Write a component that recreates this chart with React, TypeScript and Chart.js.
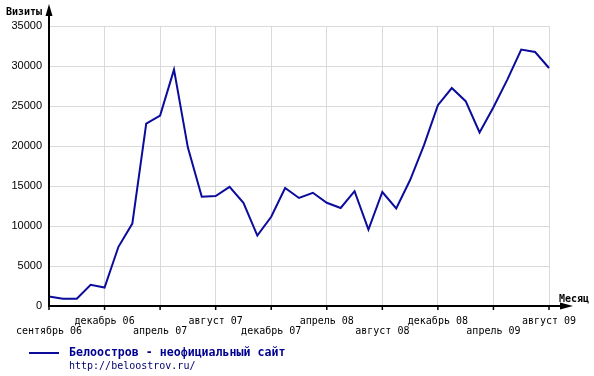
import React, { useEffect, useRef } from "react";
import { Chart, registerables } from "chart.js";

Chart.register(...registerables);

const tickLabels = [
  "сентябрь 06",
  "декабрь 06",
  "апрель 07",
  "август 07",
  "декабрь 07",
  "апрель 08",
  "август 08",
  "декабрь 08",
  "апрель 09",
  "август 09",
];

const visits = [
  1200, 900, 900, 2650, 2300, 7400, 10300, 22800, 23800, 29550,
  19800, 13650, 13750, 14900, 12900, 8800, 11150, 14750, 13500, 14150,
  12900, 12250, 14350, 9550, 14250, 12200, 15750, 20100, 25100, 27250,
  25600, 21700, 24850, 28300, 32050, 31750, 29750,
];

const categories = visits.map((_, i) => (i % 4 === 0 ? tickLabels[i / 4] : ""));

const seriesName = "Белоостров - неофициальный сайт";
const siteUrl = "http://beloostrov.ru/";
const yTitle = "Визиты";
const xTitle = "Месяц";

const LINE_COLOR = "#0b0b9c";
const GRID_COLOR = "#d9d9d9";

const decorPlugin = {
  id: "decor",
  afterDraw(chart: any) {
    const ctx = chart.ctx as CanvasRenderingContext2D;
    const { left, bottom } = chart.chartArea;
    const xs = chart.scales.x;
    ctx.save();
    ctx.fillStyle = "#000";
    ctx.strokeStyle = "#000";
    // y axis
    ctx.fillRect(left - 1, 10, 2, bottom - 10 + 1);
    ctx.beginPath();
    ctx.moveTo(left, 4);
    ctx.lineTo(left - 3.5, 16);
    ctx.lineTo(left + 3.5, 16);
    ctx.closePath();
    ctx.fill();
    // x axis
    ctx.fillRect(left - 1, bottom - 1, 566 - left, 2);
    ctx.beginPath();
    ctx.moveTo(573, bottom);
    ctx.lineTo(560, bottom - 3.5);
    ctx.lineTo(560, bottom + 3.5);
    ctx.closePath();
    ctx.fill();
    // ticks
    ctx.lineWidth = 1.5;
    for (let i = 0; i < categories.length; i += 4) {
      const x = xs.getPixelForValue(i);
      ctx.beginPath();
      ctx.moveTo(x, bottom);
      ctx.lineTo(x, bottom + 4);
      ctx.stroke();
    }
    // axis titles
    ctx.font = "bold 10px 'DejaVu Sans Mono'";
    ctx.textBaseline = "middle";
    ctx.textAlign = "right";
    ctx.fillText(yTitle, 42, 12);
    ctx.textAlign = "left";
    ctx.fillText(xTitle, 559, 299);
    // legend
    ctx.strokeStyle = LINE_COLOR;
    ctx.lineWidth = 2;
    ctx.beginPath();
    ctx.moveTo(29, 353);
    ctx.lineTo(59, 353);
    ctx.stroke();
    ctx.fillStyle = "#000090";
    ctx.font = "bold 11.6px 'DejaVu Sans Mono'";
    ctx.fillText(seriesName, 69, 353);
    ctx.font = "10px 'DejaVu Sans Mono'";
    ctx.fillStyle = "#000070";
    ctx.fillText(siteUrl, 69, 366);
    ctx.restore();
  },
};

export default function App() {
  const ref = useRef<HTMLCanvasElement | null>(null);
  useEffect(() => {
    if (!ref.current) return;
    const chart = new Chart(ref.current, {
      type: "line",
      data: {
        labels: categories,
        datasets: [
          {
            label: seriesName,
            data: visits,
            borderColor: LINE_COLOR,
            backgroundColor: LINE_COLOR,
            borderWidth: 2,
            pointRadius: 0,
            tension: 0,
            fill: false,
          },
        ],
      },
      options: {
        animation: false,
        responsive: true,
        maintainAspectRatio: false,
        layout: { padding: { top: 26, right: 45, bottom: 0, left: 0 } },
        plugins: { legend: { display: false }, tooltip: { enabled: false } },
        scales: {
          x: {
            type: "category",
            offset: false,
            border: { display: false },
            grid: {
              drawTicks: false,
              color: (c: any) => (c.index % 4 === 0 ? GRID_COLOR : "transparent"),
            },
            afterFit: (s: any) => {
              s.height = 70;
            },
            ticks: {
              autoSkip: false,
              maxRotation: 0,
              padding: 10,
              color: "#000",
              font: { family: "'DejaVu Sans Mono'", size: 10, lineHeight: 1.05 },
              callback: (_v: any, i: number) => {
                if (i % 4 !== 0) return "";
                const k = i / 4;
                return k % 2 === 0 ? ["", tickLabels[k]] : [tickLabels[k], ""];
              },
            },
          },
          y: {
            min: 0,
            max: 35000,
            border: { display: false },
            grid: { drawTicks: false, color: GRID_COLOR },
            afterFit: (s: any) => {
              s.width = 49;
            },
            ticks: {
              stepSize: 5000,
              padding: 7,
              color: "#000",
              font: { family: "'Liberation Sans'", size: 11 },
              callback: (v: any) => String(v),
            },
          },
        },
      },
      plugins: [decorPlugin],
    });
    return () => chart.destroy();
  }, []);
  return (
    <div style={{ position: "absolute", left: 0, top: 0, width: 594, height: 376 }}>
      <canvas ref={ref} />
    </div>
  );
}
